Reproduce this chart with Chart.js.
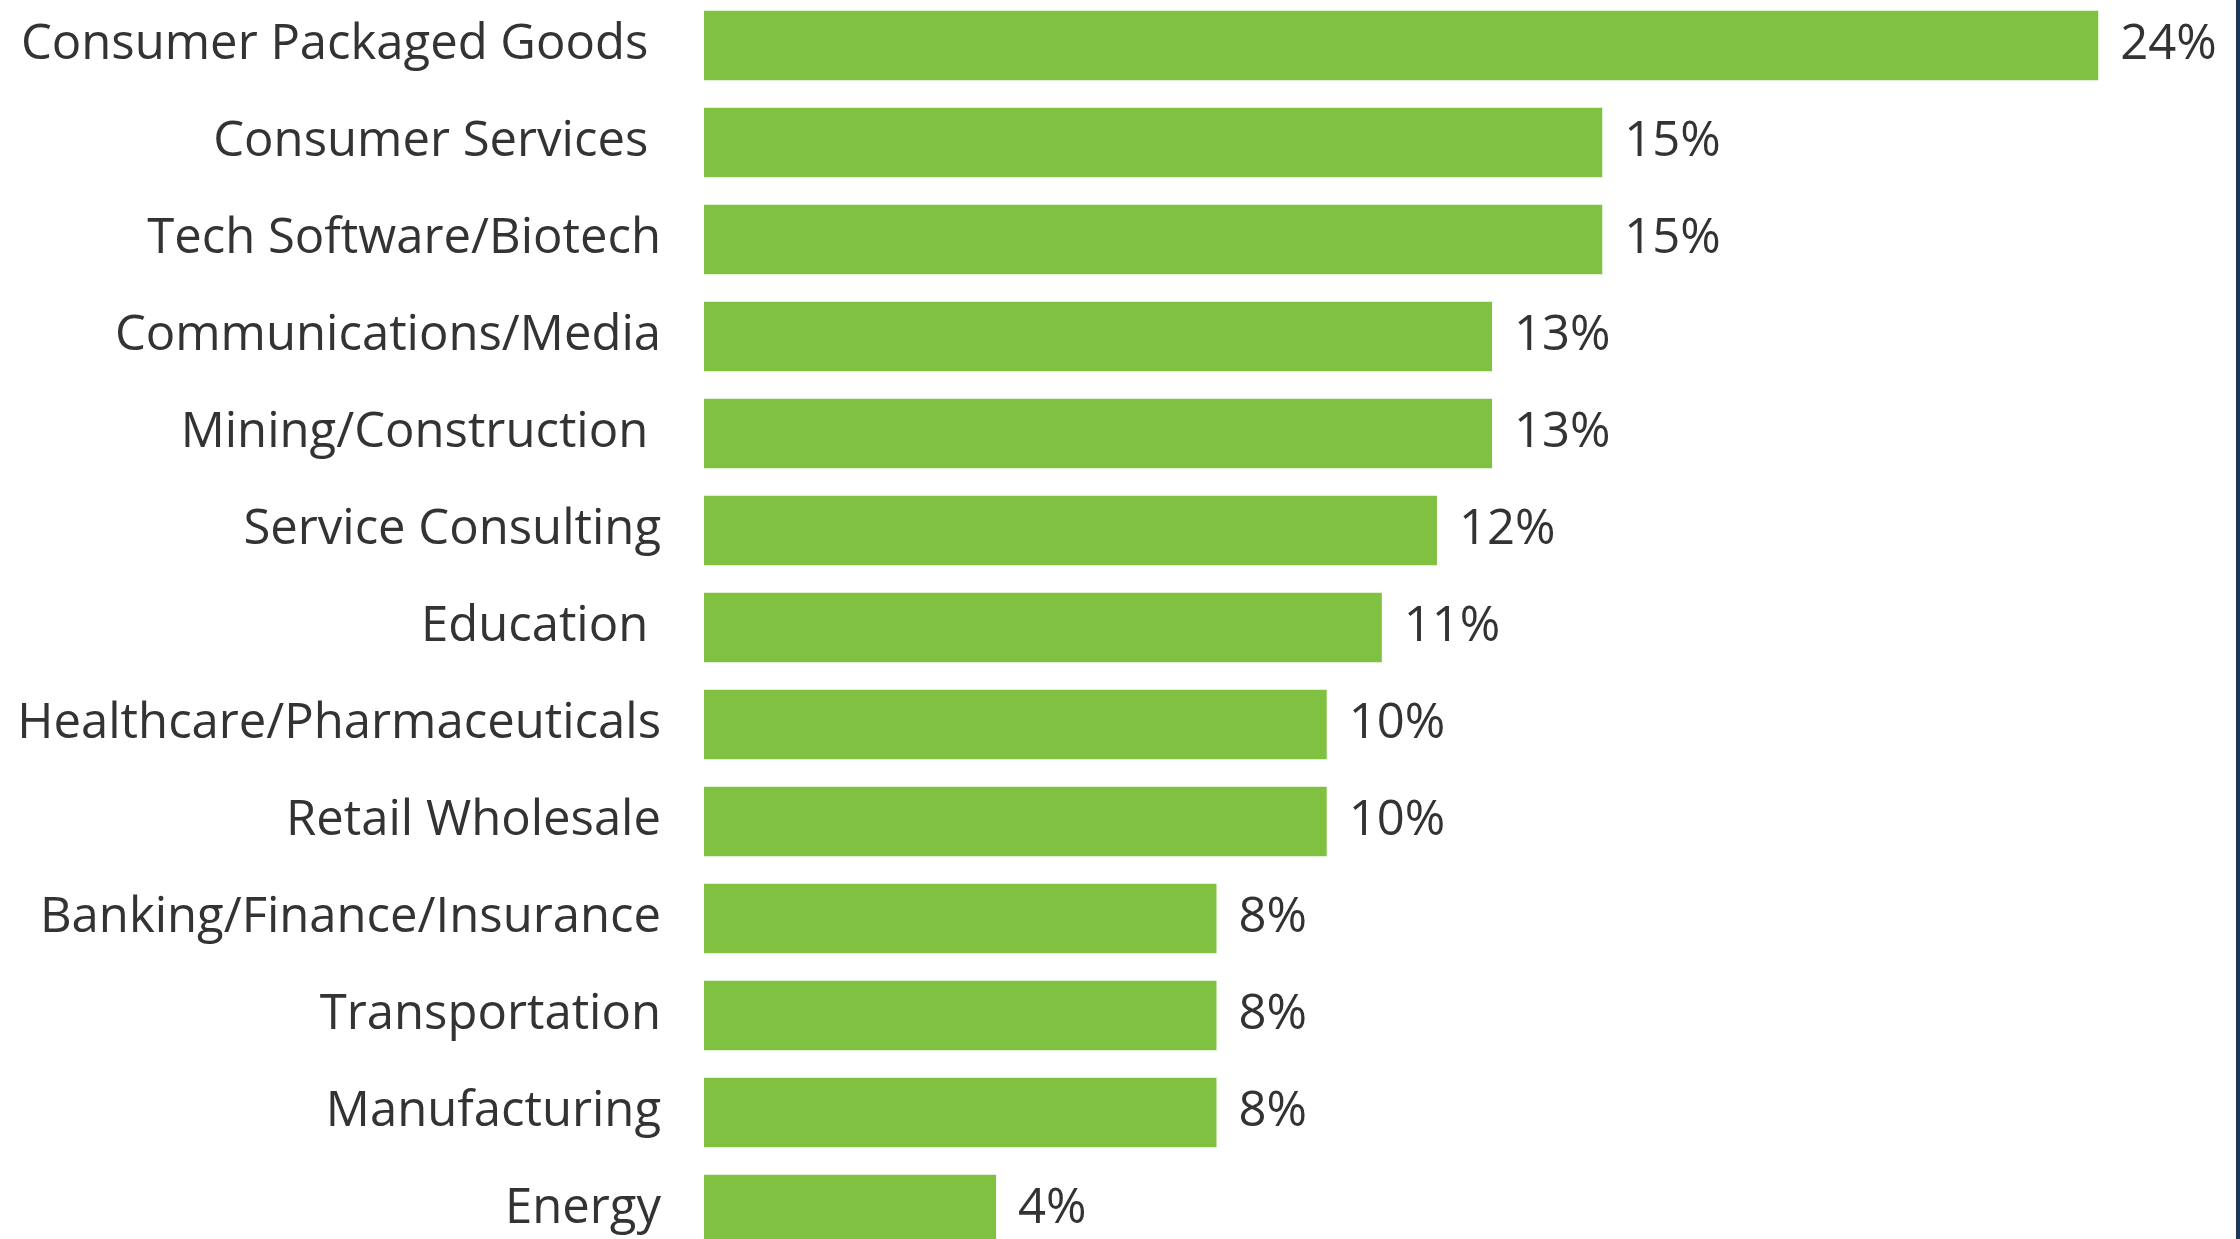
<!DOCTYPE html>
<html>
<head>
<meta charset="utf-8">
<script src="https://cdn.jsdelivr.net/npm/chart.js@4"></script>
<style>
  html, body { margin: 0; padding: 0; background: #ffffff; overflow: hidden; width: 2240px; height: 1239px; }
  #wrap { position: absolute; left: 0; top: -3.5px; width: 2236px; height: 1261px; }
  #edge { position: absolute; left: 2236px; top: 0; width: 4px; height: 1239px; background: #1d3854; }
</style>
</head>
<body>
<div id="wrap"><canvas id="c"></canvas></div>
<div id="edge"></div>
<script>
const categories = [
  "Consumer Packaged Goods ",
  "Consumer Services ",
  "Tech Software/Biotech",
  "Communications/Media",
  "Mining/Construction ",
  "Service Consulting",
  "Education ",
  "Healthcare/Pharmaceuticals",
  "Retail Wholesale",
  "Banking/Finance/Insurance",
  "Transportation",
  "Manufacturing",
  "Energy"
];
const values = [24, 15, 15, 13, 13, 12, 11, 10, 10, 8, 8, 8, 4];
const valueSuffix = "%";

const FONT = "'Open Sans', 'Noto Sans', sans-serif";
const TEXT = "#333333";
const BAR = "#80c141";

const valueLabels = {
  id: 'valueLabels',
  afterDatasetsDraw(chart) {
    const ctx = chart.ctx;
    const meta = chart.getDatasetMeta(0);
    ctx.save();
    ctx.font = "49px " + FONT;
    ctx.fillStyle = TEXT;
    ctx.textAlign = 'left';
    ctx.textBaseline = 'middle';
    meta.data.forEach((bar, i) => {
      ctx.fillText(values[i] + valueSuffix, bar.x + 22, bar.y);
    });
    ctx.restore();
  }
};

new Chart(document.getElementById('c'), {
  type: 'bar',
  data: {
    labels: categories,
    datasets: [{
      data: values,
      base: -1.3,
      backgroundColor: BAR,
      borderWidth: 0,
      barPercentage: 0.718,
      categoryPercentage: 1.0
    }]
  },
  options: {
    indexAxis: 'y',
    responsive: true,
    maintainAspectRatio: false,
    animation: false,
    layout: { padding: 0 },
    plugins: {
      legend: { display: false },
      tooltip: { enabled: false }
    },
    scales: {
      x: {
        display: false,
        min: -1.3,
        max: 26.5
      },
      y: {
        grid: { display: false, drawTicks: false },
        border: { display: false },
        ticks: {
          color: TEXT,
          font: { family: FONT, size: 49 },
          padding: 43
        },
        afterFit(scale) {
          scale.width = 704;
          scale.paddingTop = 0;
          scale.paddingBottom = 0;
        }
      }
    }
  },
  plugins: [valueLabels]
});
</script>
</body>
</html>
